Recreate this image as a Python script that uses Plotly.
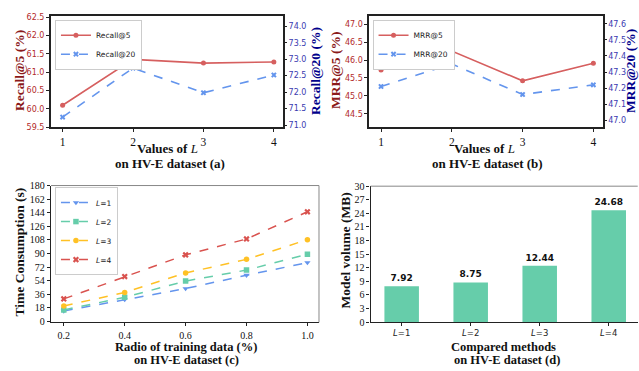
import plotly.graph_objects as go

# ---- data ----
L_vals = [1, 2, 3, 4]
recall5 = [60.10, 61.35, 61.25, 61.28]
recall20 = [71.24, 72.73, 71.98, 72.52]
mrr5 = [45.72, 46.25, 45.42, 45.91]
mrr20 = [47.21, 47.35, 47.16, 47.22]
ratios = [0.2, 0.4, 0.6, 0.8, 1.0]
time_L1 = [14.1, 29.1, 43.7, 61.3, 78.0]
time_L2 = [15.4, 32.1, 53.6, 68.1, 89.1]
time_L3 = [20.6, 38.6, 64.3, 82.3, 108.4]
time_L4 = [30.0, 59.6, 88.3, 109.3, 145.3]
methods = ["<i>L</i>=1", "<i>L</i>=2", "<i>L</i>=3", "<i>L</i>=4"]
volumes = [7.92, 8.75, 12.44, 24.68]

RED = "#d65f5f"
BLUE = "#6495ed"
GREEN = "#66cdaa"
ORANGE = "#ffc125"
LRED_T = "#b22a2a"
LBLUE_T = "#3a3ab0"
SERIF = "Liberation Serif"
SANS = "DejaVu Sans"

fig = go.Figure()

# Panel a
fig.add_trace(go.Scatter(x=L_vals, y=recall5, name="Recall@5", mode="lines+markers",
                         line=dict(color=RED, width=1.6), marker=dict(symbol="circle", size=5),
                         xaxis="x", yaxis="y", legend="legend"))
fig.add_trace(go.Scatter(x=L_vals, y=recall20, name="Recall@20", mode="lines+markers",
                         line=dict(color=BLUE, width=1.6, dash="dash"), marker=dict(symbol="x", size=5),
                         xaxis="x", yaxis="y2", legend="legend"))
# Panel b
fig.add_trace(go.Scatter(x=L_vals, y=mrr5, name="MRR@5", mode="lines+markers",
                         line=dict(color=RED, width=1.6), marker=dict(symbol="circle", size=5),
                         xaxis="x2", yaxis="y3", legend="legend2"))
fig.add_trace(go.Scatter(x=L_vals, y=mrr20, name="MRR@20", mode="lines+markers",
                         line=dict(color=BLUE, width=1.6, dash="dash"), marker=dict(symbol="x", size=5),
                         xaxis="x2", yaxis="y4", legend="legend2"))
# Panel c
for name, ys, col, sym in [("<i>L</i>=1", time_L1, BLUE, "triangle-down"),
                           ("<i>L</i>=2", time_L2, GREEN, "square"),
                           ("<i>L</i>=3", time_L3, ORANGE, "circle"),
                           ("<i>L</i>=4", time_L4, "#d9534f", "x")]:
    fig.add_trace(go.Scatter(x=ratios, y=ys, name=name, mode="lines+markers",
                             line=dict(color=col, width=1.5, dash="dash"),
                             marker=dict(symbol=sym, size=5.5),
                             xaxis="x3", yaxis="y5", legend="legend3"))
# Panel d
fig.add_trace(go.Bar(x=methods, y=volumes, marker=dict(color=GREEN, line=dict(width=0)), width=0.5,
                     text=[f"<b>{v:.2f}</b>" for v in volumes], textposition="outside",
                     textfont=dict(family=SANS, size=9, color="#111"),
                     cliponaxis=False, showlegend=False, xaxis="x4", yaxis="y6"))

frame = dict(showline=True, linecolor="#222", linewidth=2, mirror=True, ticks="outside",
             ticklen=3, tickcolor="#222", showgrid=False, zeroline=False)
low = dict(showline=True, linecolor="#222", linewidth=1.3, ticks="outside", ticklen=3,
           tickcolor="#222", showgrid=False, zeroline=False)

serif_ticks = dict(family=SERIF, size=11.5, color="#111")
serif_small = dict(family=SERIF, size=10, color="#111")
sans_left = dict(family=SANS, size=8, color=LRED_T)
sans_right = dict(family=SANS, size=8, color=LBLUE_T)
right_ax = dict(ticks="outside", ticklen=3, tickcolor="#222", showgrid=False, zeroline=False, showline=False)
leg_font = dict(family=SANS, size=7.5, color="#222")

fig.update_layout(
    width=639, height=371, margin=dict(l=0, r=0, t=0, b=0),
    plot_bgcolor="white", paper_bgcolor="white",
    xaxis=dict(domain=[0.0798, 0.4429], anchor="y", range=[0.835, 4.13], tickvals=L_vals,
               tickfont=serif_ticks, **frame),
    yaxis=dict(domain=[0.663, 0.973], anchor="x", range=[59.5, 62.54],
               tickvals=[59.5, 60.0, 60.5, 61.0, 61.5, 62.0, 62.5], tickformat=".1f",
               tickfont=sans_left, **frame),
    yaxis2=dict(overlaying="y", side="right", anchor="x", range=[70.93, 74.32],
                tickvals=[71.0, 71.5, 72.0, 72.5, 73.0, 73.5, 74.0], tickformat=".1f",
                tickfont=sans_right, **right_ax),
    xaxis2=dict(domain=[0.578, 0.943], anchor="y3", range=[0.835, 4.13], tickvals=L_vals,
                tickfont=serif_ticks, **frame),
    yaxis3=dict(domain=[0.663, 0.973], anchor="x2", range=[44.12, 47.24],
                tickvals=[44.5, 45.0, 45.5, 46.0, 46.5, 47.0], tickformat=".1f",
                tickfont=sans_left, **frame),
    yaxis4=dict(overlaying="y3", side="right", anchor="x2", range=[46.956, 47.65],
                tickvals=[47.0, 47.1, 47.2, 47.3, 47.4, 47.5, 47.6], tickformat=".1f",
                tickfont=sans_right, **right_ax),
    xaxis3=dict(domain=[0.0798, 0.4992], anchor="y5", range=[0.158, 1.038], tickvals=ratios,
                ticktext=["0.2", "0.4", "0.6", "0.8", "1.0"], tickfont=serif_small,
                ticklabelstandoff=1, **low),
    yaxis5=dict(domain=[0.1213, 0.5013], anchor="x3", range=[-1, 180],
                tickvals=list(range(0, 181, 18)), tickfont=serif_small, **low),
    xaxis4=dict(domain=[0.580, 0.998], anchor="y6", range=[-0.45, 3.42],
                tickfont=dict(family=SANS, size=8.5, color="#222"), **low),
    yaxis6=dict(domain=[0.122, 0.4995], anchor="x4", range=[0, 30],
                tickvals=list(range(0, 31, 3)), tickfont=serif_small, **low),
    legend=dict(x=0.086, y=0.962, xanchor="left", yanchor="top", bgcolor="white",
                bordercolor="#cccccc", borderwidth=1, font=leg_font,
                tracegroupgap=0, itemwidth=30),
    legend2=dict(x=0.583, y=0.962, xanchor="left", yanchor="top", bgcolor="white",
                 bordercolor="#cccccc", borderwidth=1, font=leg_font,
                 tracegroupgap=0, itemwidth=30),
    legend3=dict(x=0.086, y=0.497, xanchor="left", yanchor="top", bgcolor="white",
                 bordercolor="#cccccc", borderwidth=1, font=leg_font,
                 tracegroupgap=0, itemwidth=30),
)

# frame lines (grey top/right) for lower panels
fig.add_shape(type="line", xref="x3 domain", yref="y5 domain", x0=0, x1=1, y0=1, y1=1,
              line=dict(color="#888", width=1))
fig.add_shape(type="line", xref="x3 domain", yref="y5 domain", x0=1, x1=1, y0=0, y1=1,
              line=dict(color="#888", width=1))
fig.add_shape(type="line", xref="x4 domain", yref="y6 domain", x0=0, x1=1, y0=1, y1=1,
              line=dict(color="#888", width=1))

def title(text, x, y, angle=0, color="#111", size=13.5):
    fig.add_annotation(text=text, x=x / 639, y=1 - y / 371, xref="paper", yref="paper", showarrow=False,
                       textangle=angle, xanchor="center", yanchor="middle",
                       font=dict(family=SERIF, size=size, color=color))

DR = "#8b1a1a"
NV = "#00008b"
title("<b>Recall@5 (%)</b>", 19, 67, -90, DR)
title("<b>Recall@20 (%)</b>", 315, 67, -90, NV)
title("<b>MRR@5 (%)</b>", 335, 67, -90, DR)
title("<b>MRR@20 (%)</b>", 630, 67, -90, NV)
title("<b>Values of </b><i>L</i>", 167, 147, size=13)
title("<b>on HV-E dataset (a)</b>", 170, 162, size=13)
title("<b>Values of </b><i>L</i>", 484, 147, size=13)
title("<b>on HV-E dataset (b)</b>", 487, 162, size=13)
title("<b>Time Consumption (s)</b>", 19, 254, -90)
title("<b>Radio of training data (%)</b>", 186, 351.5, size=12.5)
title("<b>on HV-E dataset (c)</b>", 186, 365, size=12.5)
title("<b>Model volume (MB)</b>", 346, 252, -90)
title("<b>Compared methods</b>", 504, 351, size=12.5)
title("<b>on HV-E dataset (d)</b>", 507, 365, size=12.5)

fig.write_html("out.html", config={"displayModeBar": False},
               post_script="document.body.style.margin='0';document.body.style.overflow='hidden';")
